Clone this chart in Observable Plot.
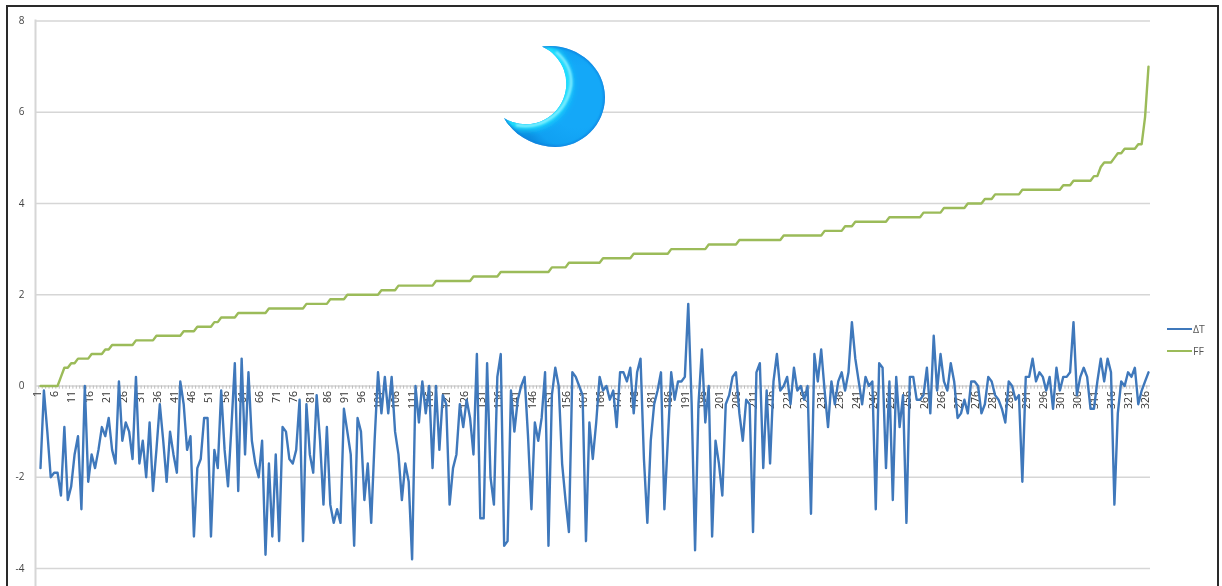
<!DOCTYPE html>
<html>
<head>
<meta charset="utf-8">
<script src="https://cdn.jsdelivr.net/npm/d3@7"></script>
<script src="https://cdn.jsdelivr.net/npm/@observablehq/plot@0.6"></script>
<style>
html,body{margin:0;padding:0;background:#fff;overflow:hidden}
#wrap{position:relative;width:1222px;height:586px;overflow:hidden}
#chart svg{display:block;filter:blur(.6px)}
#frame{position:absolute;left:6px;top:5px;width:1209px;height:600px;border:2px solid #2a2a2a;box-sizing:content-box;pointer-events:none}
#legend{position:absolute;left:1167px;top:318px;font:10.5px "Open Sans",sans-serif;color:#555;filter:blur(.4px)}
#legend div{display:flex;align-items:center;height:22px}
#legend i{display:block;width:25px;height:2.5px;margin-right:1px}
#moon{position:absolute;left:495px;top:38px}
</style>
</head>
<body>
<div id="wrap">
<div id="chart"></div>
<div id="frame"></div>
<div id="legend"></div>
<svg id="moon" width="120" height="118" viewBox="495 38 120 118">
  <defs>
    <radialGradient id="body" gradientUnits="userSpaceOnUse" cx="578" cy="97" r="62">
      <stop offset="0" stop-color="#14a8f8"/>
      <stop offset=".5" stop-color="#14a8f8"/>
      <stop offset=".85" stop-color="#10a0f2"/>
      <stop offset="1" stop-color="#0c8ee2"/>
    </radialGradient>
    <clipPath id="cres"><path d="M542 46.5C575 42 605 66 605 97C605 125 582 147 555 147C535 147 514 136 504 118A40.6 40.6 0 1 0 542 46.5Z"/></clipPath>
    <filter id="soft" x="-30%" y="-30%" width="160%" height="160%"><feGaussianBlur stdDeviation="3"/></filter>
    <filter id="soft2" x="-30%" y="-30%" width="160%" height="160%"><feGaussianBlur stdDeviation="1.3"/></filter>
  </defs>
  <path d="M542 46.5C575 42 605 66 605 97C605 125 582 147 555 147C535 147 514 136 504 118A40.6 40.6 0 1 0 542 46.5Z" fill="url(#body)"/>
  <g clip-path="url(#cres)">
    <path d="M504 118A40.6 40.6 0 1 0 542 46.5" fill="none" stroke="#1fe4ff" stroke-width="11" filter="url(#soft)"/>
    <path d="M516 125C540 130 566 115 571 85C572 72 566 60 556 52" fill="none" stroke="#8ef0ff" stroke-width="2.5" filter="url(#soft2)"/>
    <path d="M542 46.5C575 42 605 66 605 97C605 125 582 147 555 147C535 147 514 136 504 118" fill="none" stroke="#127fdc" stroke-width="2.4" filter="url(#soft2)"/>
  </g>
</svg>
</div>
<script>
const ticksY = [-4,-2,0,2,4,6,8];
const dT = [
-1.8,-0.1,-1.0,-2.0,-1.9,-1.9,-2.4,-0.9,-2.5,-2.2,
-1.5,-1.1,-2.7,0,-2.1,-1.5,-1.8,-1.4,-0.9,-1.1,
-0.7,-1.4,-1.7,0.1,-1.2,-0.8,-1.0,-1.6,0.2,-1.7,
-1.2,-2.0,-0.8,-2.3,-1.4,-0.4,-1.2,-2.1,-1.0,-1.5,
-1.9,0.1,-0.4,-1.4,-1.1,-3.3,-1.8,-1.6,-0.7,-0.7,
-3.3,-1.4,-1.8,-0.1,-1.4,-2.2,-0.9,0.5,-2.3,0.6,
-1.5,0.3,-1.2,-1.7,-2.0,-1.2,-3.7,-1.7,-3.3,-1.5,
-3.4,-0.9,-1.0,-1.6,-1.7,-1.4,-0.3,-3.4,-0.4,-1.5,
-1.9,-0.2,-1.2,-2.6,-0.9,-2.6,-3.0,-2.7,-3.0,-0.5,
-1.0,-1.5,-3.5,-0.7,-1.0,-2.5,-1.7,-3.0,-1.2,0.3,
-0.6,0.2,-0.6,0.2,-1.0,-1.5,-2.5,-1.7,-2.1,-3.8,
0,-0.8,0.1,-0.6,0,-1.8,0,-1.4,-0.2,-0.4,
-2.6,-1.8,-1.5,-0.4,-0.9,-0.3,-0.7,-1.5,0.7,-2.9,
-2.9,0.5,-2.0,-2.6,0.2,0.7,-3.5,-3.4,-0.1,-1.0,
-0.3,0,0.2,-1.1,-2.7,-0.8,-1.2,-0.7,0.3,-3.5,
-0.2,0.4,0,-1.7,-2.5,-3.2,0.3,0.2,0,-0.2,
-3.4,-0.8,-1.6,-0.8,0.2,-0.1,0,-0.3,-0.1,-0.9,
0.3,0.3,0.1,0.4,-0.6,0.3,0.6,-1.6,-3.0,-1.2,
-0.4,-0.1,0.3,-2.7,-1.2,0.3,-0.3,0.1,0.1,0.2,
1.8,-0.4,-3.6,-0.4,0.8,-0.8,0,-3.3,-1.2,-1.7,
-2.4,-0.4,-0.2,0.2,0.3,-0.6,-1.2,-0.3,-0.4,-3.2,
0.3,0.5,-1.8,-0.1,-1.7,0.1,0.7,-0.1,0,0.2,
-0.4,0.4,-0.1,0,-0.3,0,-2.8,0.7,0.1,0.8,
-0.1,-0.9,0.1,-0.4,0.1,0.3,-0.1,0.3,1.4,0.6,
0.1,-0.4,0.2,0,0.1,-2.7,0.5,0.4,-1.8,0.1,
-2.5,0.2,-0.9,-0.2,-3.0,0.2,0.2,-0.3,-0.3,-0.2,
0.4,-0.6,1.1,-0.1,0.7,0.1,-0.1,0.5,0.1,-0.7,
-0.6,-0.3,-0.6,0.1,0.1,0,-0.6,-0.4,0.2,0.1,
-0.2,-0.3,-0.5,-0.8,0.1,0,-0.3,-0.2,-2.1,0.2,
0.2,0.6,0.1,0.3,0.2,-0.1,0.2,-0.5,0.4,-0.1,
0.2,0.2,0.3,1.4,-0.2,0.2,0.4,0.2,-0.5,-0.5,
0.1,0.6,0.1,0.6,0.3,-2.6,-0.6,0.1,0,0.3,
0.2,0.4,-0.4,-0.1,0.1,0.3
];
const FF = [
0,0,0,0,0,0,0.2,0.4,0.4,0.5,0.5,
0.6,0.6,0.6,0.6,
0.7,0.7,0.7,0.7,
0.8,0.8,
0.9,0.9,0.9,0.9,0.9,0.9,0.9,
1,1,1,1,1,1,
1.1,1.1,1.1,1.1,1.1,1.1,1.1,1.1,
1.2,1.2,1.2,1.2,
1.3,1.3,1.3,1.3,1.3,
1.4,1.4,
1.5,1.5,1.5,1.5,1.5,
1.6,1.6,1.6,1.6,1.6,1.6,1.6,1.6,1.6,
1.7,1.7,1.7,1.7,1.7,1.7,1.7,1.7,1.7,1.7,1.7,
1.8,1.8,1.8,1.8,1.8,1.8,1.8,
1.9,1.9,1.9,1.9,1.9,
2,2,2,2,2,2,2,2,2,2,
2.1,2.1,2.1,2.1,2.1,
2.2,2.2,2.2,2.2,2.2,2.2,2.2,2.2,2.2,2.2,2.2,
2.3,2.3,2.3,2.3,2.3,2.3,2.3,2.3,2.3,2.3,2.3,
2.4,2.4,2.4,2.4,2.4,2.4,2.4,2.4,
2.5,2.5,2.5,2.5,2.5,2.5,2.5,2.5,2.5,2.5,2.5,2.5,2.5,2.5,2.5,
2.6,2.6,2.6,2.6,2.6,
2.7,2.7,2.7,2.7,2.7,2.7,2.7,2.7,2.7,2.7,
2.8,2.8,2.8,2.8,2.8,2.8,2.8,2.8,2.8,
2.9,2.9,2.9,2.9,2.9,2.9,2.9,2.9,2.9,2.9,2.9,
3,3,3,3,3,3,3,3,3,3,3,
3.1,3.1,3.1,3.1,3.1,3.1,3.1,3.1,3.1,
3.2,3.2,3.2,3.2,3.2,3.2,3.2,3.2,3.2,3.2,3.2,3.2,3.2,
3.3,3.3,3.3,3.3,3.3,3.3,3.3,3.3,3.3,3.3,3.3,3.3,
3.4,3.4,3.4,3.4,3.4,3.4,
3.5,3.5,3.5,
3.6,3.6,3.6,3.6,3.6,3.6,3.6,3.6,3.6,3.6,
3.7,3.7,3.7,3.7,3.7,3.7,3.7,3.7,3.7,3.7,
3.8,3.8,3.8,3.8,3.8,3.8,
3.9,3.9,3.9,3.9,3.9,3.9,3.9,
4,4,4,4,4,
4.1,4.1,4.1,
4.2,4.2,4.2,4.2,4.2,4.2,4.2,4.2,
4.3,4.3,4.3,4.3,4.3,4.3,4.3,4.3,4.3,4.3,4.3,4.3,
4.4,4.4,4.4,
4.5,4.5,4.5,4.5,4.5,4.5,
4.6,4.6,
4.8,4.9,4.9,4.9,5,5.1,5.1,
5.2,5.2,5.2,5.2,
5.3,5.3,5.9,7
];
const seriesNames = ["ΔT","FF"];
const colors = ["#3f78bb","#9bbb59"];
const index = dT.map((_, i) => i + 1);
const labelled = index.filter(d => (d - 1) % 5 === 0);
const grid = "#d6d6d6";

const chart = Plot.plot({
  width: 1222,
  height: 586,
  marginLeft: 35,
  marginRight: 72,
  marginTop: 20,
  marginBottom: 0,
  x: {type: "linear", domain: [1, 326], range: [40, 1148], axis: null},
  y: {domain: [-4, 8], range: [568, 20.5], axis: null},
  style: {background: "transparent"},
  marks: [
    Plot.ruleY(ticksY, {stroke: grid, strokeWidth: 1.6}),
    Plot.frame({anchor: "left", stroke: grid, strokeWidth: 2}),
    Plot.ruleX(index, {x: d => d - 0.5, y1: 0, y2: -0.07, stroke: "#bdbdbd", strokeWidth: 1}),
    Plot.axisY(ticksY, {anchor: "left", tickSize: 0, tickPadding: 11, fontSize: 10, fontFamily: "'Open Sans',sans-serif", color: "#444", tickFormat: d => d, label: null}),
    Plot.text(labelled, {
      x: d => d, y: 0, text: d => String(d), rotate: -90, textAnchor: "end",
      dx: -2.5, dy: 5, fontSize: 10.5, fontFamily: "'Open Sans',sans-serif", fill: "#333"
    }),
    Plot.line(index, {x: d => d, y: d => dT[d - 1], stroke: colors[0], strokeWidth: 2.4, strokeLinejoin: "round"}),
    Plot.line(index, {x: d => d, y: d => FF[d - 1], stroke: colors[1], strokeWidth: 2.4, strokeLinejoin: "round"})
  ]
});
document.getElementById("chart").appendChild(chart);

const legend = document.getElementById("legend");
seriesNames.forEach((name, k) => {
  const row = document.createElement("div");
  const sw = document.createElement("i");
  sw.style.background = colors[k];
  row.appendChild(sw);
  row.appendChild(document.createTextNode(name));
  legend.appendChild(row);
});
</script>
</body>
</html>
